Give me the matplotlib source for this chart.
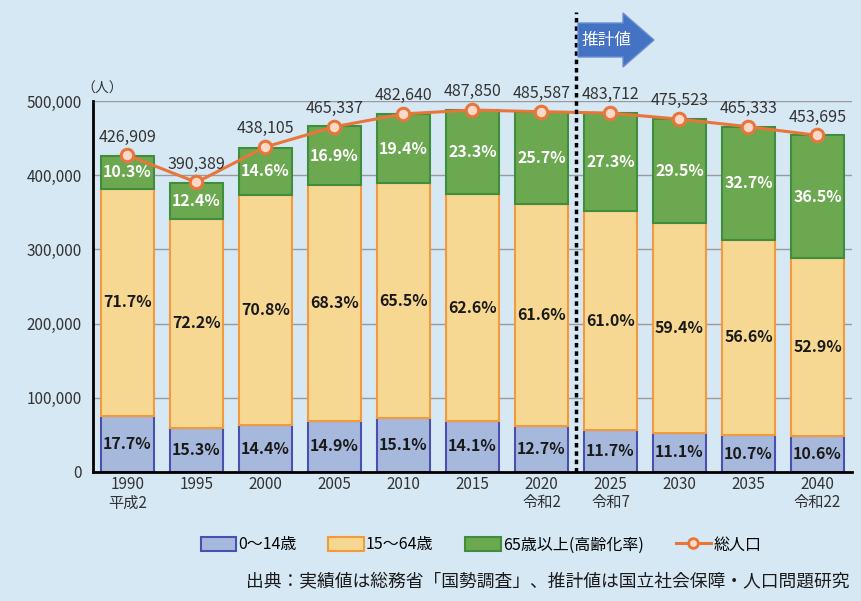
import numpy as np
import matplotlib.pyplot as plt
from matplotlib.patches import Patch, Polygon
from matplotlib.lines import Line2D

plt.rcParams['font.family'] = ['Noto Sans CJK JP', 'DejaVu Sans']

years = ['1990\n平成2', '1995', '2000', '2005', '2010', '2015', '2020\n令和2',
         '2025\n令和7', '2030', '2035', '2040\n令和22']
totals = [426909, 390389, 438105, 465337, 482640, 487850, 485587,
          483712, 475523, 465333, 453695]
pct_young = [17.7, 15.3, 14.4, 14.9, 15.1, 14.1, 12.7, 11.7, 11.1, 10.7, 10.6]
pct_work = [71.7, 72.2, 70.8, 68.3, 65.5, 62.6, 61.6, 61.0, 59.4, 56.6, 52.9]
pct_old = [10.3, 12.4, 14.6, 16.9, 19.4, 23.3, 25.7, 27.3, 29.5, 32.7, 36.5]

bg = '#D6E8F4'
c_young, e_young = '#A6B9DC', '#4B4FAF'
c_work, e_work = '#F7D893', '#F59A3B'
c_old, e_old = '#6CA850', '#3E8E3E'
c_line = '#E8763A'

tot = np.array(totals, dtype=float)
young = tot * np.array(pct_young) / 100
work = tot * np.array(pct_work) / 100
old = tot * np.array(pct_old) / 100
x = np.arange(len(years))

fig = plt.figure(figsize=(8.62, 6.01), dpi=100, facecolor=bg)
ax = fig.add_axes([93 / 862, 129 / 601, 759 / 862, 371 / 601])
ax.set_facecolor(bg)

w = 0.78
ax.bar(x, young, w, color=c_young, edgecolor=e_young, linewidth=1.5, zorder=3)
ax.bar(x, work, w, bottom=young, color=c_work, edgecolor=e_work, linewidth=1.5, zorder=3)
ax.bar(x, old, w, bottom=young + work, color=c_old, edgecolor=e_old, linewidth=1.5, zorder=3)

for i in x:
    ax.text(i, young[i] / 2, f'{pct_young[i]:.1f}%', ha='center', va='center',
            fontsize=11.5, fontweight='bold', color='#1a1a1a', zorder=5)
    ax.text(i, young[i] + work[i] / 2, f'{pct_work[i]:.1f}%', ha='center', va='center',
            fontsize=11.5, fontweight='bold', color='#1a1a1a', zorder=5)
    ax.text(i, young[i] + work[i] + old[i] / 2, f'{pct_old[i]:.1f}%', ha='center',
            va='center', fontsize=11.5, fontweight='bold', color='white', zorder=5)

ax.plot(x, tot, color=c_line, lw=2.2, marker='o', ms=9, mfc='#FCD9C8',
        mec=c_line, mew=2.2, zorder=6, clip_on=False)
for i in x:
    ax.annotate(f'{totals[i]:,}', (i, tot[i]), xytext=(0, 7), textcoords='offset points',
                ha='center', va='bottom', fontsize=11.5, color='#333333', zorder=7)

ax.set_xlim(-0.5, 10.5)
ax.set_ylim(0, 500000)
ax.set_yticks(np.arange(0, 500001, 100000))
ax.yaxis.set_major_formatter(plt.FuncFormatter(lambda v, p: f'{int(v):,}'))
ax.set_xticks(x)
ax.set_xticklabels(years, fontsize=11, color='#333333', linespacing=1.1)
ax.tick_params(axis='y', labelsize=11, colors='#333333', length=0, pad=8)
ax.tick_params(axis='x', length=0, pad=3)
ax.grid(axis='y', color='#9A9A9A', lw=1, zorder=0)
ax.set_axisbelow(True)
for s in ['top', 'right']:
    ax.spines[s].set_visible(False)
ax.spines['left'].set_linewidth(2)
ax.spines['bottom'].set_linewidth(2)
ax.spines['left'].set_zorder(4)
ax.spines['bottom'].set_zorder(4)

ax.text(-0.36, 517000, '（人）', ha='center', va='center', fontsize=10, color='#333333')

# projection divider and arrow
ax.plot([6.5, 6.5], [0, 620000], color='black', lw=2.5, ls=(0, (1.3, 1.1)),
        clip_on=False, zorder=8)
arrow = Polygon([[578, 601 - 23], [623, 601 - 23], [623, 601 - 13], [654, 601 - 40],
                 [623, 601 - 67], [623, 601 - 57], [578, 601 - 57]],
                closed=True, transform=None, facecolor='#4472C4', edgecolor='#6A8FD0', lw=1)
fig.patches.append(arrow)
fig.text(606 / 862, 1 - 40 / 601, '推計値', ha='center', va='center', fontsize=12,
         color='white')

handles = [Patch(facecolor=c_young, edgecolor=e_young, lw=1.5),
           Patch(facecolor=c_work, edgecolor=e_work, lw=1.5),
           Patch(facecolor=c_old, edgecolor=e_old, lw=1.5),
           Line2D([], [], color=c_line, lw=2.2, marker='o', ms=7, mfc='#FCD9C8',
                  mec=c_line, mew=2)]
labels = ['0～14歳', '15～64歳', '65歳以上(高齢化率)', '総人口']
fig.legend(handles, labels, loc='center', bbox_to_anchor=(481 / 862, 1 - 545 / 601),
           ncol=4, frameon=False, fontsize=11.5, handlelength=2.2, handleheight=0.9,
           handletextpad=0.15, columnspacing=2.0)

fig.text(246 / 862, 1 - 582 / 601,
         '出典：実績値は総務省「国勢調査」、推計値は国立社会保障・人口問題研究',
         ha='left', va='center', fontsize=12.8, color='#1a1a1a')

fig.savefig('out.png', dpi=100, facecolor=bg)
